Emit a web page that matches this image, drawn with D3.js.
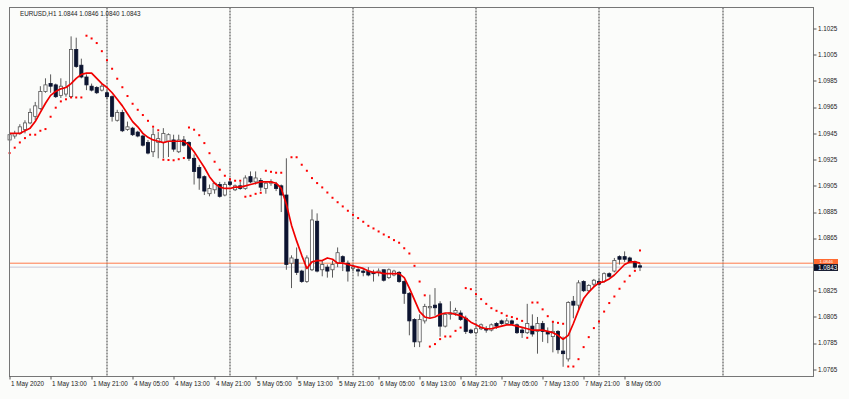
<!DOCTYPE html>
<html>
<head>
<meta charset="utf-8">
<script src="https://cdn.jsdelivr.net/npm/d3@7"></script>
<style>
  html, body { margin: 0; padding: 0; background: #fbfcfa; }
  svg { display: block; }
  text { font-family: "Liberation Sans", Arial, sans-serif; font-size: 6.3px; fill: #222; }
</style>
</head>
<body>
<script>
// EURUSD H1, 1 May 2020 05:00 .. 8 May 2020 08:00 (124 bars)
const symbol = "EURUSD,H1";
const lastQuote = [1.0844, 1.0846, 1.0840, 1.0843];
const bidPrice = 1.0843;
const askPrice = 1.0846;

const opens = [
  1.0940,1.0943,1.0945,1.0948,1.0953,1.0958,1.0964,1.0977,1.0983,1.0982,1.0974,1.0975,1.0973,1.1009,1.0997,1.0988,
  1.0981,1.0980,1.0978,1.0976,1.0973,1.0955,1.0961,1.0948,1.0949,1.0946,1.0943,1.0938,1.0931,1.0938,1.0938,1.0939,
  1.0940,1.0931,1.0940,1.0938,1.0926,1.0919,1.0912,1.0899,1.0902,1.0906,1.0898,1.0908,1.0902,1.0905,1.0903,1.0912,
  1.0908,1.0909,1.0903,1.0907,1.0906,1.0905,1.0898,1.0846,1.0849,1.0840,1.0832,1.0841,1.0878,1.0841,1.0843,1.0841,
  1.0846,1.0851,1.0846,1.0842,1.0841,1.0840,1.0840,1.0839,1.0839,1.0841,1.0835,1.0837,1.0839,1.0832,1.0823,1.0803,
  1.0786,1.0802,1.0812,1.0814,1.0815,1.0798,1.0807,1.0808,1.0808,1.0804,1.0795,1.0793,1.0796,1.0796,1.0795,1.0800,
  1.0802,1.0800,1.0802,1.0799,1.0795,1.0793,1.0798,1.0794,1.0800,1.0794,1.0790,1.0794,1.0779,1.0773,1.0817,1.0814,
  1.0832,1.0825,1.0830,1.0832,1.0832,1.0838,1.0840,1.0851,1.0851,1.0850,1.0847,1.0844
];
const highs = [
  1.0946,1.0947,1.0952,1.0955,1.0964,1.0969,1.0981,1.0987,1.0990,1.0983,1.0987,1.0985,1.1019,1.1018,1.1002,1.0990,
  1.0983,1.0981,1.0983,1.0978,1.0974,1.0963,1.0963,1.0954,1.0950,1.0947,1.0944,1.0940,1.0949,1.0946,1.0949,1.0945,
  1.0944,1.0944,1.0943,1.0939,1.0929,1.0921,1.0913,1.0906,1.0908,1.0908,1.0908,1.0911,1.0906,1.0908,1.0913,1.0916,
  1.0916,1.0911,1.0908,1.0910,1.0908,1.0906,1.0926,1.0852,1.0858,1.0841,1.0852,1.0887,1.0884,1.0848,1.0845,1.0848,
  1.0858,1.0852,1.0848,1.0845,1.0843,1.0842,1.0843,1.0841,1.0842,1.0841,1.0842,1.0841,1.0840,1.0833,1.0824,1.0804,
  1.0807,1.0815,1.0822,1.0827,1.0817,1.0808,1.0817,1.0812,1.0810,1.0806,1.0796,1.0797,1.0800,1.0798,1.0800,1.0801,
  1.0803,1.0804,1.0803,1.0800,1.0797,1.0815,1.0807,1.0805,1.0802,1.0797,1.0802,1.0795,1.0790,1.0817,1.0821,1.0833,
  1.0833,1.0830,1.0834,1.0834,1.0839,1.0839,1.0850,1.0852,1.0855,1.0851,1.0848,1.0846
];
const lows = [
  1.0938,1.0941,1.0944,1.0945,1.0952,1.0955,1.0963,1.0976,1.0976,1.0972,1.0972,1.0973,1.0972,1.0995,1.0987,1.0978,
  1.0977,1.0975,1.0977,1.0971,1.0954,1.0954,1.0946,1.0947,1.0943,1.0942,1.0935,1.0929,1.0927,1.0926,1.0926,1.0927,
  1.0931,1.0930,1.0935,1.0924,1.0906,1.0902,1.0898,1.0897,1.0899,1.0896,1.0897,1.0905,1.0901,1.0902,1.0902,1.0907,
  1.0906,1.0901,1.0899,1.0905,1.0901,1.0885,1.0841,1.0827,1.0837,1.0831,1.0831,1.0840,1.0839,1.0836,1.0835,1.0835,
  1.0843,1.0840,1.0832,1.0840,1.0836,1.0836,1.0836,1.0832,1.0836,1.0832,1.0834,1.0836,1.0831,1.0815,1.0791,1.0782,
  1.0782,1.0800,1.0804,1.0806,1.0790,1.0797,1.0803,1.0806,1.0802,1.0792,1.0792,1.0792,1.0795,1.0793,1.0794,1.0796,
  1.0799,1.0799,1.0799,1.0792,1.0789,1.0792,1.0790,1.0777,1.0786,1.0785,1.0778,1.0777,1.0767,1.0771,1.0804,1.0810,
  1.0824,1.0823,1.0828,1.0829,1.0831,1.0835,1.0839,1.0845,1.0847,1.0846,1.0842,1.0840
];
const closes = [
  1.0944,1.0945,1.0950,1.0953,1.0961,1.0966,1.0977,1.0982,1.0981,1.0973,1.0981,1.0980,1.1009,1.0996,1.0988,1.0982,
  1.0978,1.0976,1.0981,1.0973,1.0958,1.0961,1.0947,1.0950,1.0944,1.0943,1.0936,1.0930,1.0944,1.0941,1.0945,1.0944,
  1.0933,1.0940,1.0936,1.0926,1.0916,1.0911,1.0901,1.0903,1.0907,1.0897,1.0906,1.0906,1.0905,1.0903,1.0911,1.0908,
  1.0911,1.0904,1.0907,1.0908,1.0903,1.0898,1.0845,1.0850,1.0839,1.0832,1.0850,1.0879,1.0840,1.0845,1.0840,1.0845,
  1.0854,1.0847,1.0840,1.0843,1.0840,1.0839,1.0837,1.0838,1.0840,1.0833,1.0841,1.0840,1.0832,1.0823,1.0802,1.0786,
  1.0803,1.0813,1.0813,1.0812,1.0798,1.0807,1.0808,1.0810,1.0803,1.0794,1.0793,1.0796,1.0799,1.0795,1.0799,1.0798,
  1.0800,1.0802,1.0800,1.0793,1.0793,1.0800,1.0792,1.0800,1.0794,1.0792,1.0794,1.0780,1.0777,1.0816,1.0814,1.0831,
  1.0825,1.0829,1.0833,1.0830,1.0838,1.0836,1.0848,1.0849,1.0849,1.0847,1.0843,1.0843
];

// red moving average line
const maValues = [
  1.0945,1.0945,1.0945,1.0947,1.0949,1.0954,1.0961,1.0968,1.0974,1.0977,1.0979,1.0980,1.0983,1.0987,1.0990,1.0991,
  1.0991,1.0987,1.0983,1.0980,1.0976,1.0971,1.0966,1.0960,1.0954,1.0950,1.0945,1.0942,1.0940,1.0939,1.0938,1.0939,
  1.0939,1.0939,1.0939,1.0936,1.0931,1.0925,1.0919,1.0912,1.0907,1.0904,1.0903,1.0903,1.0904,1.0904,1.0905,1.0906,
  1.0907,1.0908,1.0908,1.0908,1.0907,1.0903,1.0891,1.0875,1.0863,1.0852,1.0842,1.0847,1.0848,1.0848,1.0850,1.0849,
  1.0846,1.0846,1.0845,1.0844,1.0843,1.0842,1.0840,1.0839,1.0839,1.0838,1.0838,1.0838,1.0838,1.0835,1.0827,1.0818,
  1.0809,1.0805,1.0804,1.0805,1.0807,1.0808,1.0808,1.0807,1.0806,1.0804,1.0801,1.0799,1.0797,1.0796,1.0796,1.0797,
  1.0798,1.0799,1.0799,1.0798,1.0797,1.0796,1.0795,1.0795,1.0795,1.0794,1.0793,1.0791,1.0788,1.0791,1.0800,1.0810,
  1.0819,1.0824,1.0828,1.0831,1.0832,1.0834,1.0837,1.0841,1.0845,1.0847,1.0847,1.0846
];

// parabolic SAR dots (null = not visible)
const sarValues = [
  1.09300,1.09341,1.09381,1.09414,1.09440,1.09440,1.09470,1.09483,1.09577,1.09646,1.09694,1.09710,1.09724,1.09724,1.09724,1.10195,
  1.10174,1.10139,1.10077,1.10008,1.09943,1.09867,1.09802,1.09735,1.09676,1.09630,1.09590,1.09546,1.09501,1.09474,1.09249,1.09247,
  1.09245,1.09253,1.09262,1.09495,1.09478,1.09436,1.09376,1.09299,1.09234,1.09173,1.09127,1.09100,1.09089,1.09089,1.08967,1.08974,
  1.08989,1.08997,1.09165,1.09157,1.09150,1.09150,null,1.09268,1.09268,1.09211,1.09165,1.09109,1.09071,1.09038,1.08999,1.08959,
  1.08925,1.08893,1.08860,1.08829,1.08804,1.08776,1.08745,1.08725,1.08702,1.08679,1.08659,1.08636,1.08616,1.08574,1.08534,1.08440,
  1.08320,1.08215,1.07824,1.07843,1.07881,1.07901,1.07901,1.07944,1.07969,1.08270,1.08262,1.08224,1.08186,1.08150,1.08117,1.08097,
  1.08079,1.08059,1.08049,1.08036,1.08020,1.07891,1.08160,1.08160,1.08108,1.08056,1.08013,1.08005,1.07998,1.07672,1.07672,1.07728,
  1.07820,1.07896,1.07965,1.08015,1.08091,1.08156,1.08206,1.08265,1.08320,1.08364,1.08402,1.08557
];

const yTicks = [1.0765, 1.0785, 1.0805, 1.0825, 1.0845, 1.0865, 1.0885, 1.0905, 1.0925, 1.0945, 1.0965, 1.0985, 1.1005, 1.1025];
const xTickBars = [0, 8, 16, 24, 32, 40, 48, 56, 64, 72, 80, 88, 96, 104, 112, 120];
const xTickLabels = ["1 May 2020", "1 May 13:00", "1 May 21:00", "4 May 05:00", "4 May 13:00", "4 May 21:00",
  "5 May 05:00", "5 May 13:00", "5 May 21:00", "6 May 05:00", "6 May 13:00", "6 May 21:00",
  "7 May 05:00", "7 May 13:00", "7 May 21:00", "8 May 05:00"];
// bars where a new day starts (last one is in the empty future area)
const daySeparators = [19, 43, 67, 91, 115, 139];

const margin = { top: 7.5, right: 35.5, bottom: 22.5, left: 9.5 };
const W = 849, H = 399;
const w = W - margin.left - margin.right;
const h = H - margin.top - margin.bottom;

const bars = opens.map((o, i) => ({ i, o, h: highs[i], l: lows[i], c: closes[i] }));

const svg = d3.select("body").append("svg")
  .attr("width", W)
  .attr("height", H);

const g = svg.append("g")
  .attr("transform", `translate(${margin.left},${margin.top})`);

const x = d3.scaleLinear().domain([0, 123]).range([0.1, 630.5]);
const y = d3.scaleLinear().domain([1.0765, 1.1025]).range([361.9, 21]);

// day separators
g.selectAll(".sep")
  .data(daySeparators)
  .enter().append("line")
  .attr("class", "sep")
  .attr("x1", d => Math.round(x(d)) + 0.5)
  .attr("x2", d => Math.round(x(d)) + 0.5)
  .attr("y1", 0)
  .attr("y2", h)
  .style("stroke", "#3a3a3a")
  .style("stroke-width", 1)
  .style("stroke-dasharray", "2,1");

// bid / ask lines
g.append("line")
  .attr("x1", 0).attr("x2", w)
  .attr("y1", y(askPrice)).attr("y2", y(askPrice))
  .style("stroke", "#ff7a4a").style("stroke-width", 1);
g.append("line")
  .attr("x1", 0).attr("x2", w)
  .attr("y1", y(bidPrice)).attr("y2", y(bidPrice))
  .style("stroke", "#c9c6d6").style("stroke-width", 1);

// candles
const candles = g.selectAll(".candle")
  .data(bars)
  .enter().append("g")
  .attr("class", "candle");

candles.append("line")
  .attr("x1", d => x(d.i)).attr("x2", d => x(d.i))
  .attr("y1", d => y(d.h)).attr("y2", d => y(d.l))
  .style("stroke", "#5a5a5a")
  .style("stroke-width", 1);

candles.append("rect")
  .attr("x", d => x(d.i) - 1.6)
  .attr("width", 3.2)
  .attr("y", d => y(Math.max(d.o, d.c)))
  .attr("height", d => Math.max(1, Math.abs(y(d.o) - y(d.c))))
  .style("fill", d => d.c >= d.o ? "#ffffff" : "#0c1430")
  .style("stroke", d => d.c >= d.o ? "#555" : "#0c1430")
  .style("stroke-width", 0.8);

// moving average
g.append("path")
  .datum(maValues)
  .attr("d", d3.line().x((d, i) => x(i)).y(d => y(d)))
  .style("fill", "none")
  .style("stroke", "#f00000")
  .style("stroke-width", 1.7)
  .style("stroke-linejoin", "round");

// SAR dots
g.selectAll(".sar")
  .data(sarValues.map((v, i) => ({ i, v })).filter(d => d.v != null))
  .enter().append("rect")
  .attr("class", "sar")
  .attr("x", d => x(d.i) - 1)
  .attr("y", d => y(d.v) - 1)
  .attr("width", 2)
  .attr("height", 2)
  .style("fill", "#ff0000");

// frame
g.append("rect")
  .attr("x", 0).attr("y", 0)
  .attr("width", w).attr("height", h)
  .style("fill", "none")
  .style("stroke", "#767676")
  .style("stroke-width", 1);

// price scale (the 1.0845 label sits under the price boxes, so only its tick shows)
const yAxis = g.append("g").attr("class", "y-axis");
yTicks.forEach(t => {
  yAxis.append("line")
    .attr("x1", w).attr("x2", w + 3)
    .attr("y1", Math.round(y(t)) + 0.5).attr("y2", Math.round(y(t)) + 0.5)
    .style("stroke", "#555");
  if (Math.abs(y(t) - y(bidPrice)) > 8) {
    yAxis.append("text")
      .attr("x", w + 4.5)
      .attr("y", y(t))
      .attr("dy", "0.35em")
      .text(d3.format(".4f")(t));
  }
});

// time scale
xTickBars.forEach((b, k) => {
  g.append("line")
    .attr("x1", Math.round(x(b)) + 0.5).attr("x2", Math.round(x(b)) + 0.5)
    .attr("y1", h).attr("y2", h + 3)
    .style("stroke", "#555");
  g.append("text")
    .attr("x", x(b) + 1.5)
    .attr("y", h + 9.5)
    .text(xTickLabels[k]);
});

// ask / bid labels
const ay = y(askPrice), by = y(bidPrice);
g.append("rect")
  .attr("x", w + 0.5).attr("y", ay - 4.2)
  .attr("width", 24).attr("height", 5.6)
  .style("fill", "#ff6a30");
g.append("text")
  .attr("x", w + 6).attr("y", ay - 1.9)
  .attr("dy", "0.35em")
  .style("fill", "#fff")
  .style("font-size", "4.4px")
  .text(d3.format(".4f")(askPrice));
g.append("rect")
  .attr("x", w + 0.5).attr("y", by - 3)
  .attr("width", 24).attr("height", 6.8)
  .style("fill", "#0a0f26");
g.append("text")
  .attr("x", w + 4.5).attr("y", by + 0.7)
  .attr("dy", "0.35em")
  .style("fill", "#fff")
  .text(d3.format(".4f")(bidPrice));

// header
g.append("text")
  .attr("x", 10.5)
  .attr("y", 8)
  .text(symbol + "  " + lastQuote.map(d3.format(".4f")).join(" "));
</script>
</body>
</html>
